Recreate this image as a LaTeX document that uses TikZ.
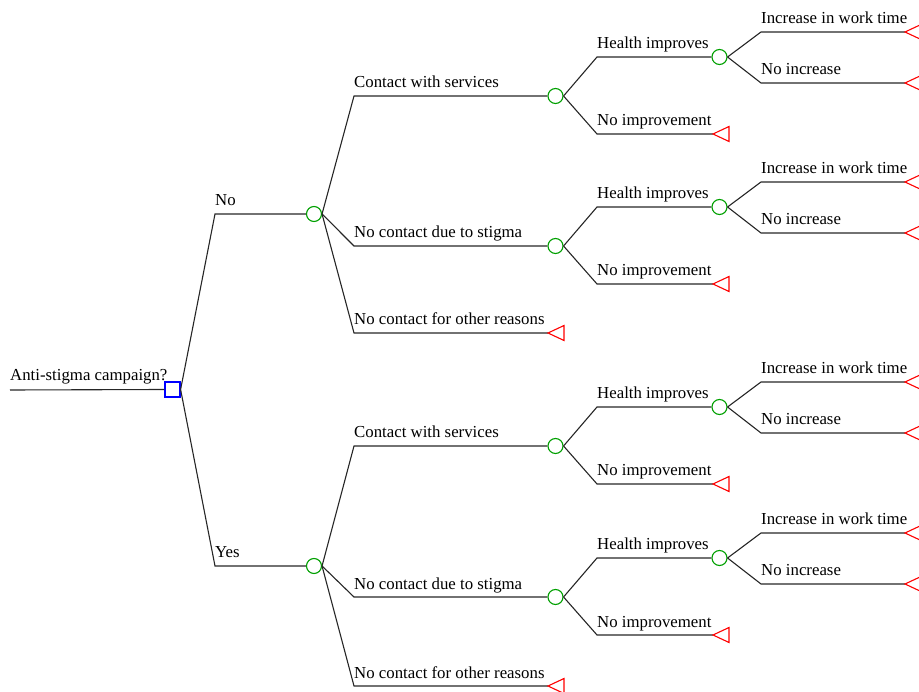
\documentclass[tikz,border=0pt]{standalone}
\usepackage{fontspec}
\setmainfont{Liberation Serif}
\begin{document}
\begin{tikzpicture}[x=1pt,y=-1pt,
  edge/.style={draw=black!85,line width=1.1pt},
  dec/.style={draw=blue,line width=1.2pt,minimum width=15pt,minimum height=15pt,inner sep=0pt,fill=white},
  chance/.style={circle,draw={rgb,255:red,0;green,160;blue,0},line width=1.1pt,minimum size=15pt,inner sep=0pt,fill=white},
  term/.style={draw=red,line width=1.1pt},
  lab/.style={anchor=base west,inner sep=0pt,font=\fontsize{16.8}{18}\selectfont}]
\useasboundingbox (0,0) rectangle (919,692);
\clip (0,0) rectangle (919,692);
\newcommand\termtri[1]{\draw[term] (#1) -- ++(16,-7.5) -- ++(0,15) -- cycle;}
% health subtree: #1 name, #2 y of level-3 chance node
\newcommand\htree[2]{%
  \pgfmathsetmacro\ya{#2-39}\pgfmathsetmacro\yb{#2+38}%
  \pgfmathsetmacro\yc{#2-64}\pgfmathsetmacro\yd{#2-13}%
  \node[chance] (#1) at (555.5,#2) {};
  \coordinate (#1-hk) at (597,\ya);
  \node[chance] (#1-h) at (719.5,\ya) {};
  \coordinate (#1-nk) at (597,\yb);
  \coordinate (#1-nt) at (713,\yb);
  \draw[edge] (#1.east) -- (#1-hk) -- (#1-h.west);
  \draw[edge] (#1.east) -- (#1-nk) -- (#1-nt);
  \termtri{#1-nt}
  \node[lab] (#1-hl) at (597,\ya-8) {Health improves};
  \node[lab] (#1-nl) at (597,\yb-8) {No improvement};
  \coordinate (#1-ik) at (761,\yc);
  \coordinate (#1-it) at (905,\yc);
  \coordinate (#1-xk) at (761,\yd);
  \coordinate (#1-xt) at (905,\yd);
  \draw[edge] (#1-h.east) -- (#1-ik) -- (#1-it);
  \draw[edge] (#1-h.east) -- (#1-xk) -- (#1-xt);
  \termtri{#1-it}
  \termtri{#1-xt}
  \node[lab] (#1-il) at (761,\yc-8) {Increase in work time};
  \node[lab] (#1-xl) at (761,\yd-8) {No increase};
}
% root
\coordinate (r0) at (10,390);
\node[dec] (d) at (172.5,389.5) {};
\draw[edge] (r0) -- (d.west);
\node[lab] (rl) at (10,381) {Anti-stigma campaign?};
% No / Yes branches: #1 name, #2 label, #3 y, #4 contact y, #5 stigma y, #6 other y
\newcommand\campaign[6]{%
  \coordinate (#1-k) at (215,#3);
  \node[chance] (#1) at (314,#3) {};
  \draw[edge] (d.east) -- (#1-k) -- (#1.west);
  \node[lab] (#1-l) at (215,#3-8) {#2};
  \coordinate (#1-ck) at (354,#4);
  \coordinate (#1-sk) at (354,#5);
  \coordinate (#1-ok) at (354,#6);
  \coordinate (#1-ot) at (548,#6);
  \htree{#1-c}{#4}
  \htree{#1-s}{#5}
  \draw[edge] (#1.east) -- (#1-ck) -- (#1-c.west);
  \draw[edge] (#1.east) -- (#1-sk) -- (#1-s.west);
  \draw[edge] (#1.east) -- (#1-ok) -- (#1-ot);
  \termtri{#1-ot}
  \node[lab] (#1-cl) at (354,#4-8) {Contact with services};
  \node[lab] (#1-sl) at (354,#5-8) {No contact due to stigma};
  \node[lab] (#1-ol) at (354,#6-8) {No contact for other reasons};
}
\campaign{no}{No}{214}{96}{246}{333}
\campaign{yes}{Yes}{566}{446}{597}{686}
\end{tikzpicture}
\end{document}
